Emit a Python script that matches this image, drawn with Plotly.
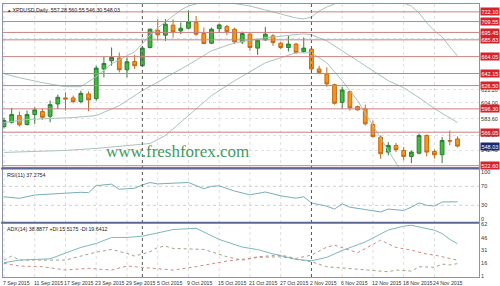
import plotly.graph_objects as go

# ---------------- data ----------------
header_text = "XPDUSD,Daily  557.28 560.55 546.30 548.03"
rsi_text = "RSI(11) 37.2754"
adx_text = "ADX(14) 38.8877 +DI:15.5175 -DI:19.6412"
watermark = "www.freshforex.com"

date_tick_bars = [0, 4, 8, 12, 16, 20, 24, 28, 32, 36, 40, 44, 48, 52, 56]
date_tick_labels = ["7 Sep 2015", "11 Sep 2015", "17 Sep 2015", "23 Sep 2015", "29 Sep 2015",
                    "5 Oct 2015", "9 Oct 2015", "15 Oct 2015", "21 Oct 2015", "27 Oct 2015",
                    "2 Nov 2015", "6 Nov 2015", "12 Nov 2015", "18 Nov 2015", "24 Nov 2015"]
separator_bars = [18, 40]

open_ = [573.4, 578.9, 587.6, 576.0, 588.9, 592.8, 586.7, 602.7, 610.5, 610.5,
         605.7, 615.7, 609.6, 648.0, 658.7, 662.2, 647.0, 657.8, 652.2, 675.9,
         698.3, 691.9, 704.8, 697.4, 700.9, 708.2, 693.9, 681.5, 700.4, 703.0,
         699.6, 683.2, 693.2, 675.1, 685.8, 691.0, 681.5, 675.9, 680.3, 670.7,
         673.8, 648.0, 641.5, 627.7, 604.8, 618.6, 599.2, 596.3, 576.0, 559.6,
         540.2, 548.9, 542.4, 534.6, 538.9, 561.8, 541.1, 536.8, 555.0, 557.28]
high = [585.0, 597.6, 592.8, 594.1, 598.3, 596.7, 607.0, 614.8, 617.7, 613.5,
        619.9, 619.0, 652.2, 663.8, 675.9, 669.4, 662.9, 666.4, 677.0, 700.4,
        712.6, 712.6, 712.6, 708.2, 724.2, 716.8, 701.7, 701.7, 706.9, 705.2,
        701.7, 696.5, 694.9, 687.1, 702.6, 693.2, 683.2, 691.0, 681.9, 688.8,
        675.5, 652.2, 650.0, 629.0, 625.1, 619.9, 600.5, 601.8, 581.2, 561.8,
        553.1, 552.0, 546.7, 542.4, 564.4, 563.1, 543.7, 559.6, 568.2, 560.55]
low = [570.8, 577.3, 573.4, 574.7, 576.9, 582.1, 578.9, 596.3, 594.1, 603.5,
       603.5, 593.2, 607.0, 637.1, 652.2, 643.6, 637.1, 647.9, 650.9, 674.6,
       685.4, 684.5, 688.8, 693.2, 699.6, 691.0, 680.3, 680.3, 695.2, 691.9,
       680.3, 680.3, 671.6, 666.4, 684.5, 678.1, 673.8, 670.7, 667.3, 669.4,
       643.6, 641.5, 625.1, 601.8, 596.3, 594.1, 594.1, 574.7, 559.2, 531.7,
       536.1, 540.5, 529.5, 526.0, 537.2, 534.6, 531.7, 526.0, 549.0, 546.30]
close = [581.2, 588.9, 575.6, 588.9, 595.0, 585.4, 601.8, 611.3, 609.2, 605.7,
         616.4, 607.9, 649.2, 655.2, 662.9, 647.0, 657.4, 652.2, 675.1, 699.6,
         692.3, 706.1, 696.1, 700.9, 709.1, 693.2, 681.0, 699.6, 705.2, 696.5,
         683.2, 693.9, 675.9, 685.4, 693.2, 682.3, 675.9, 680.3, 669.4, 675.1,
         648.0, 643.6, 628.6, 603.5, 620.8, 597.6, 595.0, 576.9, 560.5, 538.1,
         548.9, 543.3, 534.6, 540.2, 561.8, 540.2, 536.8, 555.3, 554.6, 548.03]

bb_upper_bars = [0, 2, 5, 8, 10, 12, 14, 16, 17, 18, 19, 20, 21, 22, 23, 24, 26, 28, 30, 32,
                 34, 36, 38, 39, 40, 41, 42, 43, 45, 48, 51, 52, 53, 54, 55, 56, 57, 58, 59]
bb_upper = [641.9, 636.7, 630.3, 625.1, 625.1, 638.0, 654.8, 665.1, 670.3, 680.6,
            692.3, 701.3, 709.1, 716.8, 724.6, 729.7, 735.0, 736.0, 733.0, 729.7,
            724.6, 719.4, 714.2, 712.9, 715.5, 723.3, 728.4, 732.3, 745.0, 760.0,
            745.0, 733.6, 729.7, 720.7, 707.8, 697.4, 689.7, 676.8, 665.1]
bb_mid_bars = [0, 3, 6, 9, 12, 15, 18, 21, 24, 27, 30, 34, 38, 39, 40, 42, 44, 46, 48, 50,
               52, 54, 56, 59]
bb_mid = [578.6, 582.5, 583.8, 585.0, 587.6, 600.5, 619.9, 636.7, 653.5, 671.6,
          681.9, 688.4, 692.3, 693.6, 692.3, 684.5, 671.6, 658.7, 645.8, 632.8,
          623.8, 610.9, 596.7, 578.6]
bb_lower_bars = [0, 4, 8, 12, 16, 19, 21, 24, 27, 30, 34, 38, 40, 42, 44, 46, 48, 50, 52]
bb_lower = [539.8, 541.1, 542.4, 545.0, 548.9, 551.4, 561.8, 587.6, 613.5, 632.8,
            656.1, 669.0, 669.0, 656.1, 632.8, 607.0, 574.7, 542.4, 510.0]

level_prices = [722.10, 709.55, 695.45, 685.83, 664.05, 642.15, 626.50, 596.30, 566.05, 522.60]
level_labels = ["722.10", "709.55", "695.45", "685.83", "664.05", "642.15", "626.50", "596.30", "566.05", "522.60"]
current_price = 548.03
current_label = "548.03"
price_ticks = [542.40, 562.20, 583.60, 604.00, 621.20, 687.40]
price_tick_labels = ["542.40", "562.20", "583.60", "604.00", "621.20", "687.40"]

rsi_bars = [0, 2, 4, 6, 7, 10, 11, 12, 14, 15, 17, 18, 19, 20, 22, 24, 26, 27, 28, 30,
            32, 34, 36, 38, 39, 40, 42, 43, 44, 45, 47, 49, 50, 51, 52, 53, 54, 55, 56, 57,
            58, 59]
rsi_vals = [48, 44.7, 51.7, 53.2, 55.3, 57.4, 56.6, 71.5, 74.5, 63.8, 66, 73, 77.9, 75.1,
            76.6, 78, 65, 70, 71, 60, 52, 58, 50, 45, 48, 35, 28, 22, 33, 26, 21, 16, 22,
            20, 19, 26, 35, 30, 28.6, 37, 37, 37.28]
rsi_ticks = [100, 70, 30, 0]

adx_bars = [0, 2, 6, 8, 10, 12, 14, 16, 18, 20, 22, 25, 28, 31, 33, 35, 37, 38, 40, 42,
            44, 47, 50, 52, 53, 55, 56, 57, 58, 59]
adx_vals = [16.6, 19.7, 21.2, 27.5, 34.6, 39.2, 46.3, 46.3, 47.8, 51.6, 55.6, 57, 44, 35,
            32, 27, 23, 20.5, 18.9, 22.9, 31, 41, 55, 59.5, 60.6, 56.8, 54.8, 50.9, 44, 38.89]
pdi_bars = [0, 1, 2, 5, 8, 12, 14, 16, 17, 19, 20, 21, 22, 26, 29, 31, 33, 36, 38, 40,
            42, 46, 50, 51, 53, 54, 56, 57, 58, 59]
pdi_vals = [19.7, 24.4, 19.7, 19.7, 19.7, 29, 32.2, 27.5, 24.4, 29.4, 34.6, 36.1, 33.4,
            32.2, 23.6, 19.7, 22.9, 23.6, 20.5, 17.7, 11.9, 8.8, 6.0, 8.0, 6.8, 11.9, 11.2,
            15.0, 14.0, 15.52]
mdi_bars = [0, 2, 5, 8, 11, 14, 16, 18, 22, 25, 29, 32, 33, 36, 38, 40, 42, 43, 46, 49,
            51, 53, 54, 55, 56, 57, 59]
mdi_vals = [15.9, 12.7, 11.9, 8.0, 10.0, 8.0, 12.7, 11.2, 8.0, 12, 18.5, 21.7, 23.6, 25.6,
            21.7, 25.6, 35, 37.3, 28.3, 43.1, 34.6, 31.4, 29.4, 26.7, 25.6, 23.6, 19.64]
adx_ticks = [62, 46, 31, 16, 1]

# ---------------- figure ----------------
bars = list(range(len(close)))
FONT = "Liberation Sans"
D_MAIN = [0.4015, 1.0]
D_RSI = [0.2007, 0.3942]
D_ADX = [0.0, 0.197]

fig = go.Figure()
band_col = "#a9c3bd"
fig.add_trace(go.Scatter(x=bb_upper_bars, y=bb_upper, mode="lines",
                         line=dict(color=band_col, width=1), xaxis="x", yaxis="y"))
fig.add_trace(go.Scatter(x=bb_mid_bars, y=bb_mid, mode="lines",
                         line=dict(color=band_col, width=1), xaxis="x", yaxis="y"))
fig.add_trace(go.Scatter(x=bb_lower_bars, y=bb_lower, mode="lines",
                         line=dict(color=band_col, width=1), xaxis="x", yaxis="y"))
fig.add_trace(go.Candlestick(
    x=bars, open=open_, high=high, low=low, close=close,
    increasing=dict(fillcolor="#3dbb3d", line=dict(color="#2e7d32", width=1)),
    decreasing=dict(fillcolor="#f7941d", line=dict(color="#c46a12", width=1)),
    whiskerwidth=0, xaxis="x", yaxis="y"))

fig.add_trace(go.Scatter(x=rsi_bars, y=rsi_vals, mode="lines",
                         line=dict(color="#78aeb8", width=1), xaxis="x2", yaxis="y2"))

fig.add_trace(go.Scatter(x=pdi_bars, y=pdi_vals, mode="lines",
                         line=dict(color="#9aa58c", width=1, dash="dot"), xaxis="x3", yaxis="y3"))
fig.add_trace(go.Scatter(x=mdi_bars, y=mdi_vals, mode="lines",
                         line=dict(color="#d28a86", width=1, dash="dot"), xaxis="x3", yaxis="y3"))
fig.add_trace(go.Scatter(x=adx_bars, y=adx_vals, mode="lines",
                         line=dict(color="#7cb8bc", width=1), xaxis="x3", yaxis="y3"))

xr = [-0.13, 61.8]
axis_line = "#8d92a6"
common_x = dict(range=xr, showgrid=False, zeroline=False, showticklabels=False,
                showline=True, linecolor=axis_line, mirror=True, ticks="")
tickfont = dict(family=FONT, size=5.5, color="#333333")
fig.update_layout(
    width=500, height=286,
    margin=dict(l=2, r=20, t=3, b=9),
    paper_bgcolor="white", plot_bgcolor="white",
    showlegend=False, hovermode=False,
    xaxis=dict(domain=[0, 1], anchor="y", rangeslider=dict(visible=False), **common_x),
    xaxis2=dict(domain=[0, 1], anchor="y2", matches="x", **common_x),
    xaxis3=dict(domain=[0, 1], anchor="y3", matches="x", **common_x),
    yaxis=dict(domain=D_MAIN, anchor="x", range=[520.4, 732.3], side="right",
               tickvals=price_ticks, ticktext=price_tick_labels, tickfont=tickfont,
               showgrid=True, gridcolor="#e2e2e2", griddash="dot", zeroline=False,
               showline=True, linecolor=axis_line, mirror=True, ticks=""),
    yaxis2=dict(domain=D_RSI, anchor="x2", range=[-5.7, 105.7], side="right",
                tickvals=rsi_ticks, tickfont=tickfont,
                showgrid=False, zeroline=False,
                showline=True, linecolor=axis_line, mirror=True, ticks=""),
    yaxis3=dict(domain=D_ADX, anchor="x3", range=[-0.17, 63], side="right",
                tickvals=adx_ticks, tickfont=tickfont,
                showgrid=False, zeroline=False,
                showline=True, linecolor=axis_line, mirror=True, ticks=""),
)

shapes = []
for b in date_tick_bars:
    shapes.append(dict(type="line", xref="x", yref="paper", x0=b, x1=b, y0=0, y1=1,
                       line=dict(color="#dedede", width=1, dash="dot"), layer="below"))
for lv in [70, 30]:
    shapes.append(dict(type="line", xref="x2 domain", yref="y2", x0=0, x1=1, y0=lv, y1=lv,
                       line=dict(color="#cfcfcf", width=1, dash="dot"), layer="below"))
for b in separator_bars:
    shapes.append(dict(type="line", xref="x", yref="paper", x0=b, x1=b, y0=0, y1=1,
                       line=dict(color="#555555", width=1, dash="dot")))
for p in level_prices:
    shapes.append(dict(type="line", xref="x domain", yref="y", x0=0, x1=1, y0=p, y1=p,
                       line=dict(color="#c98080", width=1)))
for yy in [0.3978, 0.1989]:
    shapes.append(dict(type="line", xref="paper", yref="paper", x0=-0.004, x1=1.0, y0=yy, y1=yy,
                       line=dict(color="#5d6790", width=2)))
fig.update_layout(shapes=shapes)

ann = []
for p, t in zip(level_prices, level_labels):
    ann.append(dict(x=1, xref="paper", y=p, yref="y", xanchor="left", yanchor="middle",
                    text=t, showarrow=False, xshift=1, bgcolor="#d6232b", borderpad=0.5,
                    font=dict(family=FONT, size=5.5, color="white")))
ann.append(dict(x=1, xref="paper", y=current_price, yref="y", xanchor="left", yanchor="middle",
                text=current_label, showarrow=False, xshift=1, bgcolor="#1c2870", borderpad=0.5,
                font=dict(family=FONT, size=5.5, color="white")))
for b, t in zip(date_tick_bars, date_tick_labels):
    ann.append(dict(x=b, xref="x3", y=0, yref="paper", xanchor="left", yanchor="top",
                    text=t, showarrow=False, xshift=-3, yshift=-1,
                    font=dict(family=FONT, size=5.2, color="#333333")))
ann.append(dict(x=0, xref="paper", y=1, yref="paper", xanchor="left", yanchor="top",
                text="\u25B4 " + header_text, showarrow=False, xshift=3, yshift=-1,
                font=dict(family=FONT, size=5.3, color="#222222")))
ann.append(dict(x=0, xref="paper", y=D_RSI[1], yref="paper", xanchor="left", yanchor="top",
                text=rsi_text, showarrow=False, xshift=2, yshift=-1,
                font=dict(family=FONT, size=5.3, color="#222222")))
ann.append(dict(x=0, xref="paper", y=D_ADX[1], yref="paper", xanchor="left", yanchor="top",
                text=adx_text, showarrow=False, xshift=2, yshift=-1,
                font=dict(family=FONT, size=5.3, color="#222222")))
ann.append(dict(x=0.366, xref="paper", y=0.46, yref="paper", xanchor="center", yanchor="middle",
                text=watermark, showarrow=False,
                font=dict(family="Liberation Serif", size=17, color="#3f9b62")))
fig.update_layout(annotations=ann)

fig.write_html("out.html")
